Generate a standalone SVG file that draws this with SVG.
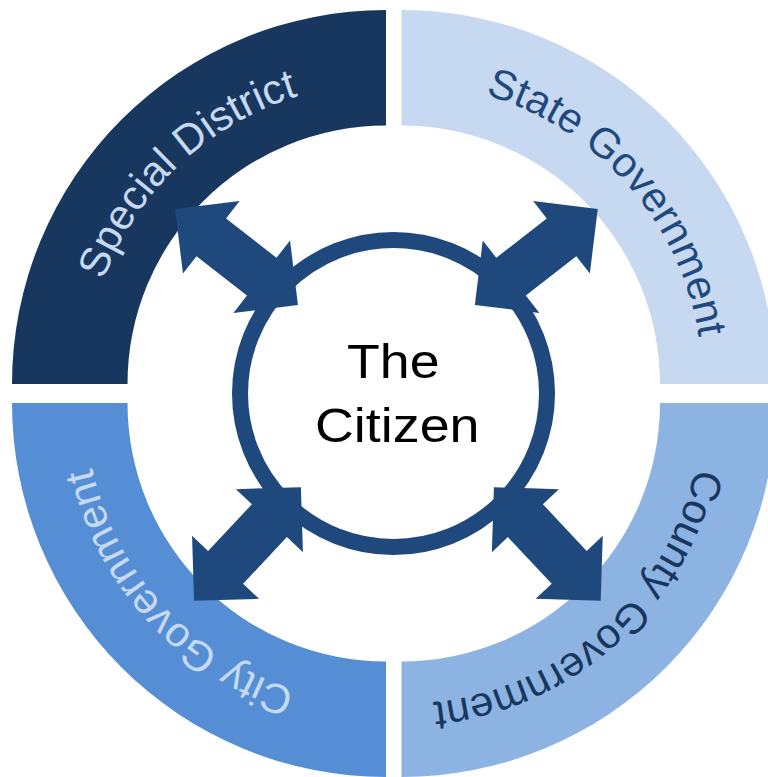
<svg xmlns="http://www.w3.org/2000/svg" xmlns:xlink="http://www.w3.org/1999/xlink" width="768" height="777" viewBox="0 0 768 777">
  <style>
    .lbl { font-family: "Liberation Sans", Arial, sans-serif; font-size: 42px; }
    .center { font-family: "Liberation Sans", Arial, sans-serif; font-size: 49px; fill: #000000; }
    .arrow { fill: #1F497D; }
  </style>
  <defs>
    <path id="tp-tl" d="M85,384 A301,301 0 0 1 386,83"/>
    <path id="tp-tr" d="M401.5,83 A301,301 0 0 1 702.5,384"/>
    <path id="tp-br" d="M702.5,403 A301,301 0 0 1 401.5,704"/>
    <path id="tp-bl" d="M386,704 A301,301 0 0 1 85,403"/>
    <polygon id="dbl-arrow" points="-78,0 -32,-46 -32,-24 32,-24 32,-46 78,0 32,46 32,24 -32,24 -32,46"/>
  </defs>
  <rect width="768" height="777" fill="#ffffff"/>

  <g id="special-district">
    <path d="M12,384 A374,374 0 0 1 386,10 L386,125.5 A258.5,258.5 0 0 0 127.5,384 Z" fill="#17375E"/>
    <text class="lbl" fill="#C6D9F1"><textPath xlink:href="#tp-tl" href="#tp-tl" startOffset="51.8%" text-anchor="middle">Special District</textPath></text>
  </g>

  <g id="state-government">
    <path d="M401.5,10 A374,374 0 0 1 775.5,384 L660,384 A258.5,258.5 0 0 0 401.5,125.5 Z" fill="#C6D9F1"/>
    <text class="lbl" fill="#1F497D"><textPath xlink:href="#tp-tr" href="#tp-tr" startOffset="54%" text-anchor="middle">State Government</textPath></text>
  </g>

  <g id="county-government">
    <path d="M775.5,403 A374,374 0 0 1 401.5,777 L401.5,661.5 A258.5,258.5 0 0 0 660,403 Z" fill="#8DB3E2"/>
    <text class="lbl" fill="#17375E"><textPath xlink:href="#tp-br" href="#tp-br" startOffset="53.6%" text-anchor="middle">County Government</textPath></text>
  </g>

  <g id="city-government">
    <path d="M386,777 A374,374 0 0 1 12,403 L127.5,403 A258.5,258.5 0 0 0 386,661.5 Z" fill="#558ED5"/>
    <text class="lbl" fill="#C6D9F1"><textPath xlink:href="#tp-bl" href="#tp-bl" startOffset="52.8%" text-anchor="middle">City Government</textPath></text>
  </g>

  <g id="the-citizen">
    <circle cx="393.5" cy="393.5" r="153.5" fill="#ffffff" stroke="#1F497D" stroke-width="16"/>
  </g>

  <g id="connectors">
    <use href="#dbl-arrow" xlink:href="#dbl-arrow" class="arrow" transform="translate(236.5,257) rotate(38)"/>
    <use href="#dbl-arrow" xlink:href="#dbl-arrow" class="arrow" transform="translate(536.3,257) rotate(-38)"/>
    <use href="#dbl-arrow" xlink:href="#dbl-arrow" class="arrow" transform="translate(247.5,544) rotate(-46.8)"/>
    <use href="#dbl-arrow" xlink:href="#dbl-arrow" class="arrow" transform="translate(547.3,544) rotate(46.8)"/>
  </g>

  <g id="the-citizen-label">
    <text class="center" x="347" y="378.3" textLength="92.5" lengthAdjust="spacingAndGlyphs">The</text>
    <text class="center" x="315" y="441.7" textLength="164.5" lengthAdjust="spacingAndGlyphs">Citizen</text>
  </g>
</svg>
